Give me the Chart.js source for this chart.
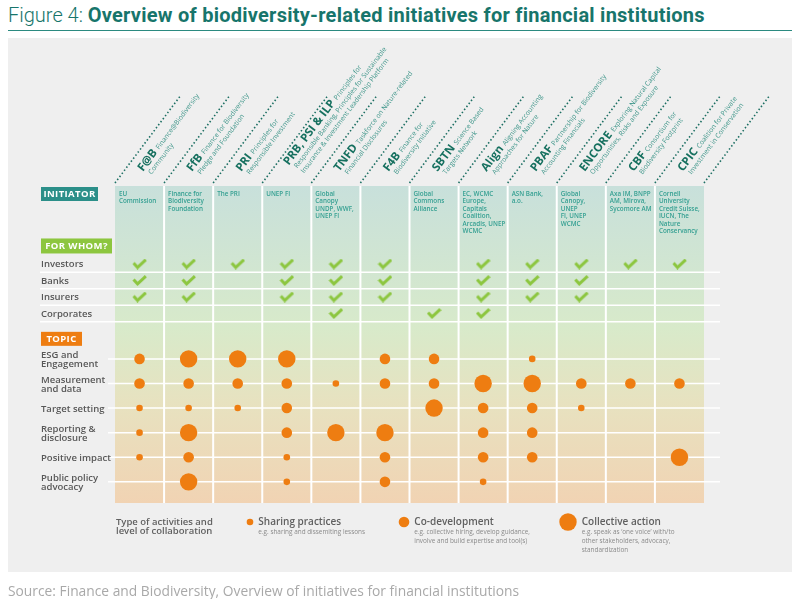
<!DOCTYPE html>
<html>
<head>
<meta charset="utf-8">
<script src="https://cdn.jsdelivr.net/npm/chart.js@4/dist/chart.umd.min.js"></script>
<style>
  html, body { margin: 0; padding: 0; background: #fff; }
  #wrap { position: relative; width: 800px; height: 599px; overflow: hidden; }
  #title { position: absolute; left: 8px; top: 3px; font-family: Roboto, sans-serif; font-size: 20px; color: #17756b; white-space: nowrap; font-weight: 300; }
  #title b { font-weight: 700; letter-spacing: 0.25px; }
  #rule { position: absolute; left: 8px; right: 8px; top: 30px; border-top: 1.5px solid #2b8a80; }
  #panel { position: absolute; left: 8px; right: 8px; top: 38px; height: 534px; background: #efefef; }
  #source { position: absolute; left: 8px; top: 581px; font-family: "Open Sans", sans-serif; font-size: 13.8px; color: #a9a9a9; white-space: nowrap; }
  canvas { position: absolute; left: 0; top: 0; }
</style>
</head>
<body>
<div id="wrap">
  <div id="title">Figure 4: <b>Overview of biodiversity-related initiatives for financial institutions</b></div>
  <div id="rule"></div>
  <div id="panel"></div>
  <canvas id="chart" width="800" height="599"></canvas>
  <div id="source">Source: Finance and Biodiversity, Overview of initiatives for financial institutions</div>
</div>
<script>
// columns
const initiatives = ['F@B', 'FfB', 'PRI', 'PRB, PSI & ILP', 'TNFD', 'F4B', 'SBTN', 'Align', 'PBAF', 'ENCORE', 'CBF', 'CPIC'];
const fullNames = [
  ['Finance@Biodiversity', 'Community'],
  ['Finance for Biodiversity', 'Pledge and Foundation'],
  ['Principles for', 'Responsible Investment'],
  ['Principles for', 'Responsible Banking, Principles for Sustainable', 'Insurance & Investment Leadership Platform'],
  ['Taskforce on Nature-related', 'Financial Disclosures'],
  ['Finance for', 'Biodiversity Initiative'],
  ['Science Based', 'Targets Network'],
  ['Aligning Accounting', 'Approaches for Nature'],
  ['Partnership for Biodiversity', 'Accounting Financials'],
  ['Exploring Natural Capital', 'Opportunities, Risks and Exposure'],
  ['Consortium for', 'Biodiversity Footprint'],
  ['Coalition for Private', 'Investment in Conservation']
];
const initiators = [
  ['EU', 'Commission'],
  ['Finance for', 'Biodiversity', 'Foundation'],
  ['The PRI'],
  ['UNEP FI'],
  ['Global', 'Canopy', 'UNDP, WWF,', 'UNEP FI'],
  [],
  ['Global', 'Commons', 'Alliance'],
  ['EC, WCMC', 'Europe,', 'Capitals', 'Coalition,', 'Arcadis, UNEP', 'WCMC'],
  ['ASN Bank,', 'a.o.'],
  ['Global', 'Canopy,', 'UNEP', 'FI, UNEP', 'WCMC'],
  ['Axa IM, BNPP', 'AM, Mirova,', 'Sycomore AM'],
  ['Cornell', 'University', 'Credit Suisse,', 'IUCN, The', 'Nature', 'Conservancy']
];

// for whom? (1 = check)
const audiences = ['Investors', 'Banks', 'Insurers', 'Corporates'];
const investors  = [1, 1, 1, 1, 1, 1, 0, 1, 1, 1, 1, 1];
const banks      = [1, 1, 0, 1, 1, 1, 0, 1, 1, 1, 0, 0];
const insurers   = [1, 1, 0, 1, 1, 1, 0, 1, 1, 1, 0, 0];
const corporates = [0, 0, 0, 0, 1, 0, 1, 1, 0, 0, 0, 0];

// topics: 0 none, 1 sharing practices, 2 co-development, 3 collective action
const topics = [['ESG and', 'Engagement'], ['Measurement', 'and data'], ['Target setting'], ['Reporting &', 'disclosure'], ['Positive impact'], ['Public policy', 'advocacy']];
const esg         = [2, 3, 3, 3, 0, 2, 2, 0, 1, 0, 0, 0];
const measurement = [2, 2, 2, 2, 1, 2, 2, 3, 3, 2, 2, 2];
const targets     = [1, 1, 1, 2, 0, 0, 3, 2, 2, 1, 0, 0];
const reporting   = [1, 3, 0, 2, 3, 3, 0, 2, 2, 0, 0, 0];
const positive    = [1, 2, 0, 1, 0, 2, 0, 2, 2, 0, 0, 3];
const policy      = [0, 3, 0, 1, 0, 2, 0, 1, 0, 0, 0, 0];

const levels = ['Sharing practices', 'Co-development', 'Collective action'];
const levelNotes = [
  ['e.g. sharing and dissemiting lessons'],
  ['e.g. collective hiring, develop guidance,', 'involve and build expertise and tool(s)'],
  ['e.g. speak as \u2018one voice\u2019 with/to', 'other stakeholders, advocacy,', 'standardization']
];

const RADIUS = [0, 3.3, 5.3, 8.7];
const ORANGE = '#ee7d11';
const TEAL = '#16705f';
const FONT = '"Open Sans", sans-serif';

const whoRows = [investors, banks, insurers, corporates];
const checkPoints = [];
whoRows.forEach((row, r) => row.forEach((v, c) => { if (v) checkPoints.push({ x: c, y: r }); }));
const topicRows = [esg, measurement, targets, reporting, positive, policy];
const dots = [];
topicRows.forEach((row, r) => row.forEach((lvl, c) => { if (lvl) dots.push({ x: c, y: r, level: lvl }); }));

function makeCheck() {
  const c = document.createElement('canvas');
  c.width = 15; c.height = 11;
  const g = c.getContext('2d');
  g.strokeStyle = '#8cc63f';
  g.lineWidth = 3;
  g.beginPath();
  g.moveTo(1.5, 4.5); g.lineTo(5.5, 8.8); g.lineTo(13.8, 1.2);
  g.stroke();
  return c;
}

function line(ctx, x1, y1, x2, y2) {
  ctx.beginPath(); ctx.moveTo(x1, y1); ctx.lineTo(x2, y2); ctx.stroke();
}

function box(ctx, text, x, y, w, h, color) {
  ctx.fillStyle = color;
  ctx.fillRect(x, y, w, h);
  ctx.fillStyle = '#fff';
  ctx.font = 'bold 9.5px ' + FONT;
  ctx.letterSpacing = '0.4px';
  ctx.textAlign = 'center';
  ctx.textBaseline = 'middle';
  ctx.fillText(text, x + w / 2, y + h / 2 + 0.5);
  ctx.letterSpacing = '0px';
}

const matrixPlugin = {
  id: 'matrix',
  beforeDatasetsDraw(chart) {
    const { ctx, chartArea: a, scales: { x, yWho, yTopic } } = chart;
    ctx.save();

    // column background
    const grad = ctx.createLinearGradient(0, a.top, 0, a.bottom);
    grad.addColorStop(0, '#c8e0db');
    grad.addColorStop(0.45, '#d8eaca');
    grad.addColorStop(0.68, '#e7e2c0');
    grad.addColorStop(1, '#f1d3b3');
    ctx.fillStyle = grad;
    ctx.fillRect(a.left, a.top, a.right - a.left, a.bottom - a.top);

    // white row lines
    ctx.strokeStyle = '#ffffff';
    ctx.lineWidth = 1.5;
    audiences.forEach((_, r) => { const y = yWho.getPixelForValue(r + 0.5); line(ctx, 40, y, 720, y); });
    topics.forEach((_, r) => { const y = yTopic.getPixelForValue(r); line(ctx, 108, y, 720, y); });
    // white column gaps
    ctx.lineWidth = 2;
    for (let c = 1; c < initiatives.length; c++) {
      const px = x.getPixelForValue(c - 0.5);
      line(ctx, px, a.top, px, a.bottom);
    }

    // dotted header lines
    ctx.strokeStyle = '#1d6f63';
    ctx.lineWidth = 1.6;
    ctx.setLineDash([1.5, 2.3]);
    for (let c = 0; c <= initiatives.length; c++) {
      const px = x.getPixelForValue(c - 0.5);
      line(ctx, px, a.top - 3, px + 66, a.top - 91);
    }
    ctx.setLineDash([]);

    // rotated header labels
    const ang = -Math.atan2(88, 66);
    initiatives.forEach((abbr, c) => {
      const left = x.getPixelForValue(c - 0.5);
      const names = fullNames[c];
      ctx.save();
      ctx.translate(left + 28, a.top - 14);
      ctx.rotate(ang);
      ctx.textAlign = 'left';
      ctx.textBaseline = 'alphabetic';
      const y0 = names.length > 2 ? -5 : 0;
      const x0 = names.length > 2 ? 4 : 0;
      ctx.font = 'bold 11.5px ' + FONT;
      ctx.fillStyle = TEAL;
      ctx.fillText(abbr, x0, y0);
      const w = ctx.measureText(abbr).width;
      ctx.font = '6.8px ' + FONT;
      ctx.fillStyle = '#3f968a';
      ctx.fillText(names[0], x0 + w + 3, y0 - 0.5);
      for (let i = 1; i < names.length; i++) {
        ctx.fillText(names[i], x0 + 3, y0 + 8.5 * i);
      }
      ctx.restore();
    });

    // initiator names inside columns
    ctx.font = '600 6.3px ' + FONT;
    ctx.fillStyle = '#35a092';
    ctx.textAlign = 'left';
    ctx.textBaseline = 'alphabetic';
    initiators.forEach((lines, c) => {
      const left = x.getPixelForValue(c - 0.5);
      lines.forEach((t, i) => ctx.fillText(t, left + 4, a.top + 10 + i * 7.4));
    });

    // section boxes
    box(ctx, 'INITIATOR', 41, a.top + 1, 57, 14, '#2b8f89');
    box(ctx, 'FOR WHOM?', 41, yWho.getPixelForValue(-1.55), 71, 15, '#8dc63f');
    box(ctx, 'TOPIC', 41, yTopic.getPixelForValue(-1.1), 41, 14, ORANGE);

    // row labels
    ctx.fillStyle = '#575757';
    ctx.font = '600 9.5px ' + FONT;
    ctx.textAlign = 'left';
    ctx.textBaseline = 'middle';
    audiences.forEach((t, r) => ctx.fillText(t, 41, yWho.getPixelForValue(r) + 0.5));
    topics.forEach((t, r) => {
      const y = yTopic.getPixelForValue(r);
      if (t.length === 1) ctx.fillText(t[0], 41, y + 1);
      else { ctx.fillText(t[0], 41, y - 3.5); ctx.fillText(t[1], 41, y + 5.5); }
    });

    // legend
    ctx.fillStyle = '#606060';
    ctx.font = '600 9.5px ' + FONT;
    ctx.fillText('Type of activities and', a.left + 1, 522);
    ctx.fillText('level of collaboration', a.left + 1, 531);
    const lx = [250, 404, 568];
    levels.forEach((lab, i) => {
      const r = RADIUS[i + 1];
      ctx.fillStyle = ORANGE;
      ctx.beginPath(); ctx.arc(lx[i], 522, r, 0, Math.PI * 2); ctx.fill();
      const tx = lx[i] + r + 5;
      ctx.fillStyle = '#606060';
      ctx.font = '600 10px ' + FONT;
      ctx.fillText(lab, tx, 522);
      ctx.fillStyle = '#8a8a8a';
      ctx.font = '6.4px ' + FONT;
      levelNotes[i].forEach((n, k) => ctx.fillText(n, tx, 532 + k * 9));
    });

    ctx.restore();
  }
};

new Chart(document.getElementById('chart'), {
  type: 'scatter',
  data: {
    datasets: [
      {
        label: 'For whom',
        data: checkPoints,
        yAxisID: 'yWho',
        pointStyle: makeCheck(),
        pointRadius: 7
      },
      {
        label: 'Topic',
        data: dots,
        yAxisID: 'yTopic',
        backgroundColor: ORANGE,
        borderWidth: 0,
        pointRadius: (c) => RADIUS[c.raw.level]
      }
    ]
  },
  options: {
    responsive: false,
    animation: false,
    devicePixelRatio: 1,
    events: [],
    layout: { padding: { left: 115, right: 96, top: 186, bottom: 96 } },
    plugins: { legend: { display: false }, tooltip: { enabled: false } },
    scales: {
      x: { type: 'linear', min: -0.5, max: initiatives.length - 0.5, display: false },
      yWho: { type: 'linear', reverse: true, min: -4.73, max: 14.48, display: false },
      yTopic: { type: 'linear', reverse: true, min: -7.03, max: 5.86, display: false }
    }
  },
  plugins: [matrixPlugin]
});
</script>
</body>
</html>
